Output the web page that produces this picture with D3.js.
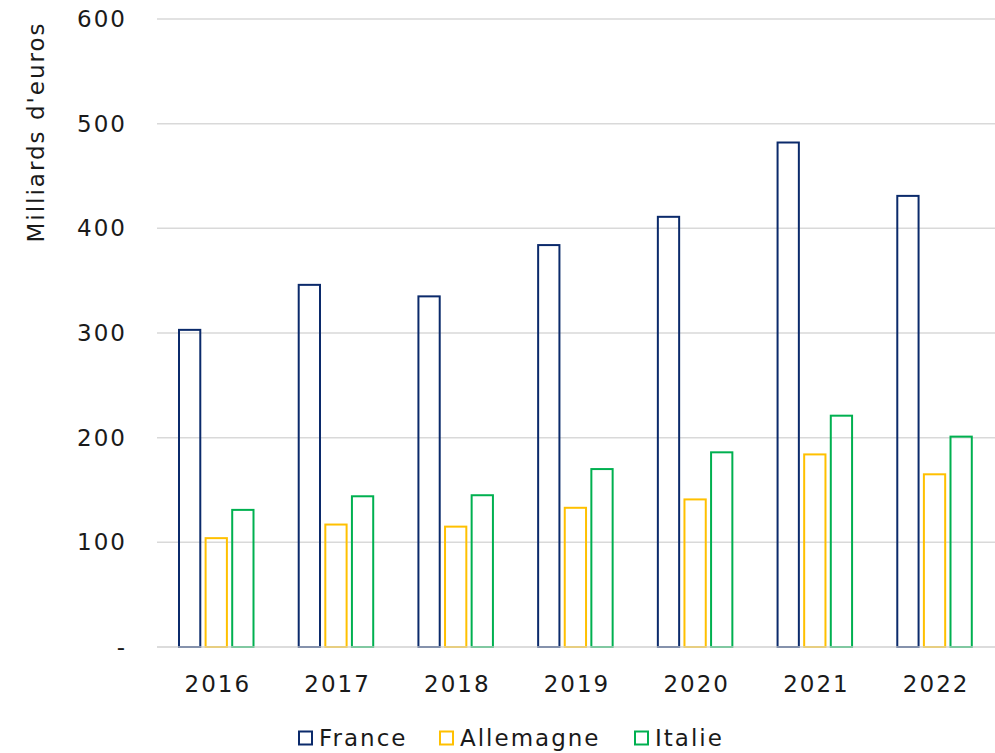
<!DOCTYPE html>
<html>
<head>
<meta charset="utf-8">
<script src="https://cdn.jsdelivr.net/npm/d3@7"></script>
<style>
  body { margin: 0; background: #fff; }
  text { font-family: "DejaVu Sans", "Noto Sans", sans-serif; fill: #1a1a1a; font-size: 23px; letter-spacing: 2px; }
</style>
</head>
<body>
<div id="chart"></div>
<script>
var years = ["2016", "2017", "2018", "2019", "2020", "2021", "2022"];
var seriesNames = ["France", "Allemagne", "Italie"];
var france = [303, 346, 335, 384, 411, 482, 431];
var allemagne = [104, 117, 115, 133, 141, 184, 165];
var italie = [131, 144, 145, 170, 186, 221, 201];
var yTicks = [0, 100, 200, 300, 400, 500, 600];
var colors = ["#0b2a6b", "#ffc000", "#00b050"];

var svgWidth = 995;
var svgHeight = 753;
var margin = { top: 19, right: 0, bottom: 106, left: 157 };
var width = svgWidth - margin.left - margin.right;
var height = svgHeight - margin.top - margin.bottom;

var svg = d3.select("#chart")
  .append("svg")
  .attr("width", svgWidth)
  .attr("height", svgHeight);

var chartGroup = svg.append("g")
  .attr("transform", `translate(${margin.left}, ${margin.top})`);

var x0 = d3.scaleBand().domain(years).range([0, width]).padding(0);
var x1 = d3.scaleBand().domain(seriesNames).range([22, 96.5]).paddingInner(0.2);
var y = d3.scaleLinear().domain([0, 600]).range([height, 0]);

// gridlines
chartGroup.selectAll(".grid")
  .data(yTicks)
  .enter()
  .append("line")
  .attr("x1", 0)
  .attr("x2", width)
  .attr("y1", d => y(d))
  .attr("y2", d => y(d))
  .attr("stroke", "#d9d9d9")
  .attr("stroke-width", 1.5);

// y tick labels
chartGroup.selectAll(".ytick")
  .data(yTicks)
  .enter()
  .append("text")
  .attr("x", -30)
  .attr("y", d => y(d))
  .attr("dy", "0.35em")
  .attr("text-anchor", "end")
  .text(d => d === 0 ? "-" : d);

// bars
var allSeries = [france, allemagne, italie];
var barData = [];
years.forEach(function(yr, i) {
  seriesNames.forEach(function(s, j) {
    barData.push({ year: yr, name: s, value: allSeries[j][i], color: colors[j] });
  });
});

chartGroup.selectAll(".bar")
  .data(barData)
  .enter()
  .append("rect")
  .attr("x", d => x0(d.year) + x1(d.name))
  .attr("y", d => y(d.value))
  .attr("width", x1.bandwidth())
  .attr("height", d => height - y(d.value))
  .attr("fill", "none")
  .attr("stroke", d => d.color)
  .attr("stroke-width", 2);

// baseline over the bar bottoms
chartGroup.append("line")
  .attr("x1", 0)
  .attr("x2", width)
  .attr("y1", height)
  .attr("y2", height)
  .attr("stroke", "#d9d9d9")
  .attr("stroke-width", 1.5)
  .attr("opacity", 0.8);

// x labels
chartGroup.selectAll(".xtick")
  .data(years)
  .enter()
  .append("text")
  .attr("x", d => x0(d) + x0.bandwidth() / 2 + 1)
  .attr("y", height + 45)
  .attr("text-anchor", "middle")
  .text(d => d);

// y axis title
svg.append("text")
  .attr("transform", "rotate(-90)")
  .attr("x", -132)
  .attr("y", 44)
  .attr("text-anchor", "middle")
  .text("Milliards d'euros");

// legend
var legendX = [298, 439, 634];
var legend = svg.selectAll(".legend")
  .data(seriesNames)
  .enter()
  .append("g")
  .attr("transform", (d, i) => `translate(${legendX[i]}, 738)`);

legend.append("rect")
  .attr("x", 1)
  .attr("y", -6.5)
  .attr("width", 13)
  .attr("height", 13)
  .attr("fill", "none")
  .attr("stroke", (d, i) => colors[i])
  .attr("stroke-width", 2);

legend.append("text")
  .attr("x", 21)
  .attr("y", 0)
  .attr("dy", "0.35em")
  .text(d => d);
</script>
</body>
</html>
